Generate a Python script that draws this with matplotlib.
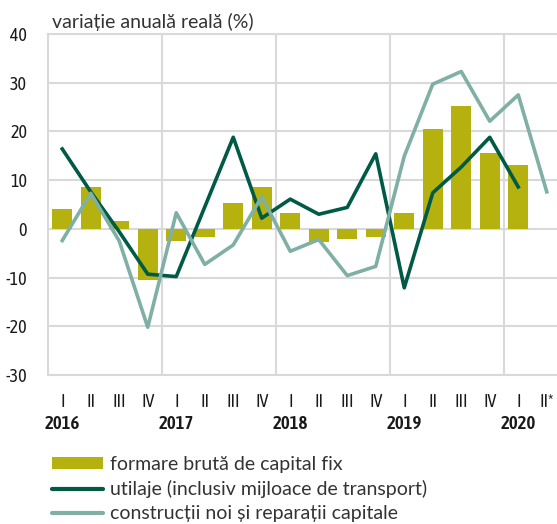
import matplotlib
matplotlib.use("Agg")
import matplotlib.pyplot as plt
from matplotlib.patches import Patch
from matplotlib.lines import Line2D
from matplotlib.transforms import blended_transform_factory

# quarterly data, 2016 Q1 .. 2020 Q2*
quarters = ["I", "II", "III", "IV"] * 4 + ["I", "II*"]
years = ["2016", "2017", "2018", "2019", "2020"]

gfcf = [4.1, 8.6, 1.6, -10.5, -2.4, -1.6, 5.3, 8.6, 3.3, -2.8, -2.0, -1.6,
        3.3, 20.4, 25.3, 15.5, 13.1]
equipment = [16.4, 7.6, -0.6, -9.3, -9.8, 4.5, 18.8, 2.2, 6.1, 3.0, 4.4, 15.4,
             -12.1, 7.4, 12.7, 18.8, 8.6]
construction = [-2.4, 7.3, -2.5, -20.2, 3.3, -7.3, -3.3, 6.6, -4.6, -2.2, -9.6, -7.7,
                14.9, 29.7, 32.3, 22.1, 27.5, 7.6]

OLIVE = "#b5b20f"
DARK = "#005a46"
LIGHT = "#7fafa5"
GRID = "#d9d9d9"
TXT = "#1a1a1a"

NARROW = ["Asap Condensed", "DejaVu Sans"]
BODY = ["Lato", "DejaVu Sans"]

fig = plt.figure(figsize=(5.57, 5.24), dpi=100)
W, H = 557, 524
ax = fig.add_axes([48 / W, 1 - 375 / H, 513 / W, 341 / H])

x = list(range(len(quarters)))
ax.bar(x[:len(gfcf)], gfcf, width=0.7, color=OLIVE, zorder=2)
ax.plot(x[:len(equipment)], equipment, color=DARK, lw=2.6, zorder=3)
ax.plot(x, construction, color=LIGHT, lw=2.6, zorder=4)

ax.set_xlim(-0.5, 17.5)
ax.set_ylim(-30, 40)
ax.set_yticks(range(-30, 41, 10))
ax.set_yticklabels([str(v) for v in range(-30, 41, 10)], fontsize=13,
                   family=NARROW, color=TXT)
ax.set_xticks(x)
ax.set_xticklabels(quarters, fontsize=13, family=NARROW, color=TXT)
ax.set_xticks([3.5, 7.5, 11.5, 15.5], minor=True)
ax.tick_params(axis="both", which="both", length=0)
ax.tick_params(axis="y", pad=15)
ax.tick_params(axis="x", pad=13)

ax.grid(axis="y", color=GRID, lw=1.5, zorder=0)
ax.grid(axis="x", which="minor", color=GRID, lw=1.5, zorder=0)
ax.set_axisbelow(True)
for side in ["left", "bottom", "top"]:
    ax.spines[side].set_color(GRID)
    ax.spines[side].set_linewidth(1.5)
ax.spines["right"].set_visible(False)

trans = blended_transform_factory(ax.transData, ax.transAxes)
for i, yr in enumerate(years):
    ax.text(i * 4, -0.143, yr, transform=trans, ha="center", va="center",
            fontsize=13.5, family=NARROW, fontweight=600, color=TXT)

fig.text(52 / W, 1 - 22 / H, "variație anuală reală (%)", ha="left", va="center",
         fontsize=14, family=BODY, color="#333333")

handles = [
    Patch(facecolor=OLIVE, edgecolor="none"),
    Line2D([], [], color=DARK, lw=3, solid_capstyle="round"),
    Line2D([], [], color=LIGHT, lw=3, solid_capstyle="round"),
]
labels = ["formare brută de capital fix",
          "utilaje (inclusiv mijloace de transport)",
          "construcții noi și reparații capitale"]
fig.legend(handles, labels, loc="upper left", bbox_to_anchor=(52 / W, 1 - 456 / H),
           frameon=False, handlelength=2.6, handleheight=0.6, handletextpad=0.4,
           labelspacing=0.36, borderaxespad=0, borderpad=0,
           prop={"family": BODY, "size": 14}, labelcolor="#333333")

fig.savefig("out.png", dpi=100)
